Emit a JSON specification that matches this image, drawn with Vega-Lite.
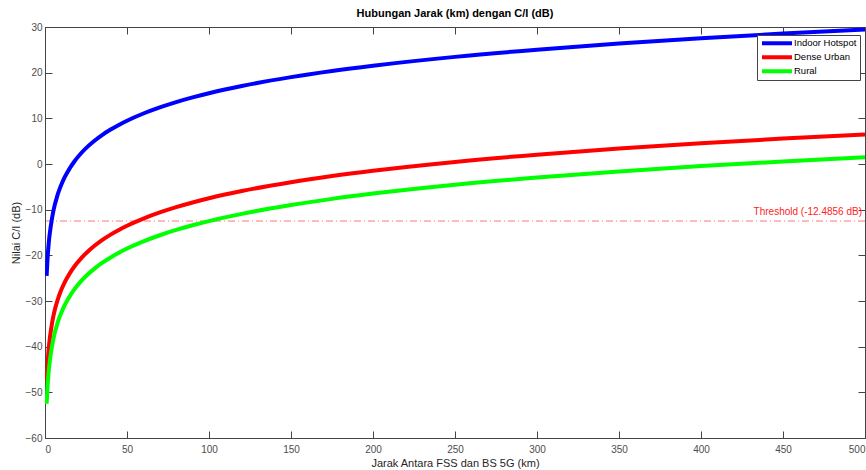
{
  "$schema": "https://vega.github.io/schema/vega-lite/v6.json",
  "width": 820,
  "height": 411,
  "autosize": {"type": "none"},
  "padding": {"left": 45, "top": 27, "right": 1, "bottom": 32},
  "background": "white",
  "title": {"text": "Hubungan Jarak (km) dengan C/I (dB)", "fontSize": 11, "font": "Liberation Sans", "fontWeight": "bold", "color": "#000000", "offset": 3},
  "config": {
    "font": "Liberation Sans",
    "view": {"stroke": "#444444", "strokeWidth": 1},
    "axis": {"grid": false, "domainColor": "#444444", "tickColor": "#444444", "labelColor": "#4d4d4d", "labelFontSize": 10, "titleFontSize": 11, "titleFontWeight": "normal", "titleColor": "#262626", "tickSize": -7}
  },
  "datasets": {
    "curves": [
      {"d":1,"ci":-24.5,"s":"Indoor Hotspot"},{"d":1.5,"ci":-21.0,"s":"Indoor Hotspot"},{"d":2,"ci":-18.5,"s":"Indoor Hotspot"},{"d":2.5,"ci":-16.5,"s":"Indoor Hotspot"},{"d":3,"ci":-15.0,"s":"Indoor Hotspot"},{"d":4,"ci":-12.5,"s":"Indoor Hotspot"},{"d":5,"ci":-10.5,"s":"Indoor Hotspot"},{"d":6,"ci":-8.9,"s":"Indoor Hotspot"},{"d":7,"ci":-7.6,"s":"Indoor Hotspot"},{"d":8,"ci":-6.4,"s":"Indoor Hotspot"},{"d":9,"ci":-5.4,"s":"Indoor Hotspot"},{"d":10,"ci":-4.5,"s":"Indoor Hotspot"},{"d":12,"ci":-2.9,"s":"Indoor Hotspot"},{"d":15,"ci":-1.0,"s":"Indoor Hotspot"},{"d":18,"ci":0.6,"s":"Indoor Hotspot"},{"d":22,"ci":2.35,"s":"Indoor Hotspot"},{"d":26,"ci":3.8,"s":"Indoor Hotspot"},{"d":30,"ci":5.04,"s":"Indoor Hotspot"},{"d":35,"ci":6.38,"s":"Indoor Hotspot"},{"d":40,"ci":7.54,"s":"Indoor Hotspot"},{"d":45,"ci":8.56,"s":"Indoor Hotspot"},{"d":50,"ci":9.48,"s":"Indoor Hotspot"},{"d":60,"ci":11.06,"s":"Indoor Hotspot"},{"d":70,"ci":12.4,"s":"Indoor Hotspot"},{"d":80,"ci":13.56,"s":"Indoor Hotspot"},{"d":90,"ci":14.58,"s":"Indoor Hotspot"},{"d":100,"ci":15.5,"s":"Indoor Hotspot"},{"d":120,"ci":17.08,"s":"Indoor Hotspot"},{"d":150,"ci":19.02,"s":"Indoor Hotspot"},{"d":175,"ci":20.36,"s":"Indoor Hotspot"},{"d":200,"ci":21.52,"s":"Indoor Hotspot"},{"d":250,"ci":23.46,"s":"Indoor Hotspot"},{"d":300,"ci":25.04,"s":"Indoor Hotspot"},{"d":350,"ci":26.38,"s":"Indoor Hotspot"},{"d":400,"ci":27.54,"s":"Indoor Hotspot"},{"d":450,"ci":28.56,"s":"Indoor Hotspot"},{"d":500,"ci":29.48,"s":"Indoor Hotspot"},
      {"d":1,"ci":-47.5,"s":"Dense Urban"},{"d":1.5,"ci":-44.0,"s":"Dense Urban"},{"d":2,"ci":-41.5,"s":"Dense Urban"},{"d":2.5,"ci":-39.5,"s":"Dense Urban"},{"d":3,"ci":-38.0,"s":"Dense Urban"},{"d":4,"ci":-35.5,"s":"Dense Urban"},{"d":5,"ci":-33.5,"s":"Dense Urban"},{"d":6,"ci":-31.9,"s":"Dense Urban"},{"d":7,"ci":-30.6,"s":"Dense Urban"},{"d":8,"ci":-29.4,"s":"Dense Urban"},{"d":9,"ci":-28.4,"s":"Dense Urban"},{"d":10,"ci":-27.5,"s":"Dense Urban"},{"d":12,"ci":-25.9,"s":"Dense Urban"},{"d":15,"ci":-24.0,"s":"Dense Urban"},{"d":18,"ci":-22.4,"s":"Dense Urban"},{"d":22,"ci":-20.65,"s":"Dense Urban"},{"d":26,"ci":-19.2,"s":"Dense Urban"},{"d":30,"ci":-17.96,"s":"Dense Urban"},{"d":35,"ci":-16.62,"s":"Dense Urban"},{"d":40,"ci":-15.46,"s":"Dense Urban"},{"d":45,"ci":-14.44,"s":"Dense Urban"},{"d":50,"ci":-13.52,"s":"Dense Urban"},{"d":60,"ci":-11.94,"s":"Dense Urban"},{"d":70,"ci":-10.6,"s":"Dense Urban"},{"d":80,"ci":-9.44,"s":"Dense Urban"},{"d":90,"ci":-8.42,"s":"Dense Urban"},{"d":100,"ci":-7.5,"s":"Dense Urban"},{"d":120,"ci":-5.92,"s":"Dense Urban"},{"d":150,"ci":-3.98,"s":"Dense Urban"},{"d":175,"ci":-2.64,"s":"Dense Urban"},{"d":200,"ci":-1.48,"s":"Dense Urban"},{"d":250,"ci":0.46,"s":"Dense Urban"},{"d":300,"ci":2.04,"s":"Dense Urban"},{"d":350,"ci":3.38,"s":"Dense Urban"},{"d":400,"ci":4.54,"s":"Dense Urban"},{"d":450,"ci":5.56,"s":"Dense Urban"},{"d":500,"ci":6.48,"s":"Dense Urban"},
      {"d":1,"ci":-52.5,"s":"Rural"},{"d":1.5,"ci":-49.0,"s":"Rural"},{"d":2,"ci":-46.5,"s":"Rural"},{"d":2.5,"ci":-44.5,"s":"Rural"},{"d":3,"ci":-43.0,"s":"Rural"},{"d":4,"ci":-40.5,"s":"Rural"},{"d":5,"ci":-38.5,"s":"Rural"},{"d":6,"ci":-36.9,"s":"Rural"},{"d":7,"ci":-35.6,"s":"Rural"},{"d":8,"ci":-34.4,"s":"Rural"},{"d":9,"ci":-33.4,"s":"Rural"},{"d":10,"ci":-32.5,"s":"Rural"},{"d":12,"ci":-30.9,"s":"Rural"},{"d":15,"ci":-29.0,"s":"Rural"},{"d":18,"ci":-27.4,"s":"Rural"},{"d":22,"ci":-25.65,"s":"Rural"},{"d":26,"ci":-24.2,"s":"Rural"},{"d":30,"ci":-22.96,"s":"Rural"},{"d":35,"ci":-21.62,"s":"Rural"},{"d":40,"ci":-20.46,"s":"Rural"},{"d":45,"ci":-19.44,"s":"Rural"},{"d":50,"ci":-18.52,"s":"Rural"},{"d":60,"ci":-16.94,"s":"Rural"},{"d":70,"ci":-15.6,"s":"Rural"},{"d":80,"ci":-14.44,"s":"Rural"},{"d":90,"ci":-13.42,"s":"Rural"},{"d":100,"ci":-12.5,"s":"Rural"},{"d":120,"ci":-10.92,"s":"Rural"},{"d":150,"ci":-8.98,"s":"Rural"},{"d":175,"ci":-7.64,"s":"Rural"},{"d":200,"ci":-6.48,"s":"Rural"},{"d":250,"ci":-4.54,"s":"Rural"},{"d":300,"ci":-2.96,"s":"Rural"},{"d":350,"ci":-1.62,"s":"Rural"},{"d":400,"ci":-0.46,"s":"Rural"},{"d":450,"ci":0.56,"s":"Rural"},{"d":500,"ci":1.48,"s":"Rural"}
    ],
    "threshold": [{"x": 500, "y": -12.4856, "label": "Threshold (-12.4856 dB)"}]
  },
  "resolve": {"axis": {"x": "independent", "y": "independent"}},
  "layer": [
    {
      "data": {"name": "threshold"},
      "mark": {"type": "rule", "color": "#ff0000", "strokeWidth": 1, "opacity": 0.55, "strokeDash": [7, 3, 1, 3]},
      "encoding": {"y": {"field": "y", "type": "quantitative", "scale": {"domain": [-60, 30], "nice": false}, "axis": {"orient": "left", "values": [-60,-50,-40,-30,-20,-10,0,10,20,30], "title": "Nilai C/I (dB)", "labelPadding": 10, "titlePadding": 4}}}
    },
    {
      "data": {"name": "curves"},
      "mark": {"type": "line", "strokeWidth": 4, "interpolate": "monotone", "clip": true},
      "encoding": {
        "x": {"field": "d", "type": "quantitative", "scale": {"domain": [0, 500], "nice": false}, "axis": {"orient": "bottom", "values": [0,50,100,150,200,250,300,350,400,450,500], "title": "Jarak Antara FSS dan BS 5G (km)", "labelPadding": 13, "titlePadding": 3}},
        "y": {"field": "ci", "type": "quantitative", "axis": null},
        "color": {"field": "s", "type": "nominal", "sort": ["Indoor Hotspot", "Dense Urban", "Rural"], "scale": {"domain": ["Indoor Hotspot", "Dense Urban", "Rural"], "range": ["#0000ff", "#ff0000", "#00ff00"]},
          "legend": {"title": null, "orient": "none", "legendX": 712, "legendY": 8, "symbolType": "M-5,0H5", "symbolSize": 36, "symbolStrokeWidth": 4, "symbolOffset": 12, "labelOffset": 12, "labelFontSize": 9.5, "labelColor": "#000000", "strokeColor": "#444444", "fillColor": "white", "padding": 3, "rowPadding": 3, "clipHeight": 10.5, "cornerRadius": 0}}
      }
    },
    {
      "data": {"name": "threshold"},
      "mark": {"type": "text", "align": "right", "baseline": "bottom", "dx": -3, "dy": -4, "color": "#ff2222", "fontSize": 10},
      "encoding": {
        "text": {"field": "label"},
        "x": {"field": "x", "type": "quantitative", "axis": {"orient": "top", "labels": false, "title": null, "values": [0,50,100,150,200,250,300,350,400,450,500], "domain": false}},
        "y": {"field": "y", "type": "quantitative", "axis": {"orient": "right", "labels": false, "title": null, "values": [-60,-50,-40,-30,-20,-10,0,10,20,30], "domain": false}}
      }
    }
  ]
}
